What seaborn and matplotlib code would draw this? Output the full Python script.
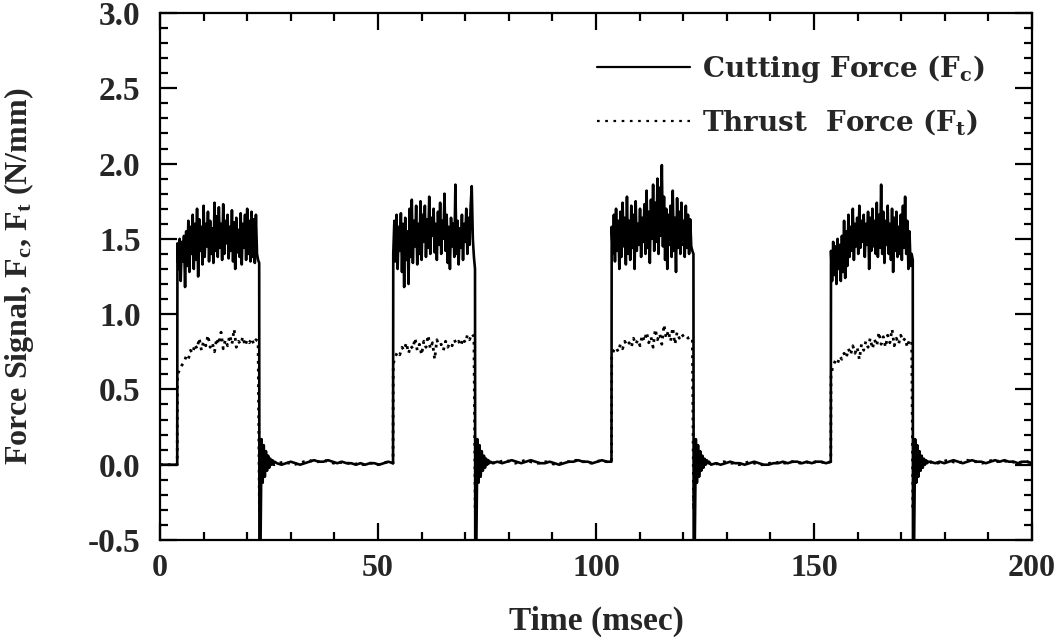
import numpy as np
import pandas as pd
import matplotlib
matplotlib.use("Agg")
import matplotlib.pyplot as plt
import seaborn as sns
from matplotlib.ticker import MultipleLocator, FormatStrFormatter
from matplotlib.lines import Line2D

# ---------------- data ----------------
onsets = [4.0, 53.5, 103.6, 153.9]      # ms, start of each cutting pulse
pulse_len = 18.8                          # ms
fc_step = 0.25                            # ms between cutting-force samples
ft_step = 0.5                             # ms between thrust-force samples
ring_step = 0.25
t_end = 200.0

fc_p1 = [1.47, 1.30, 1.50, 1.22, 1.48, 1.35, 1.52, 1.18,
         1.55, 1.32, 1.62, 1.28, 1.58, 1.40, 1.66, 1.30,
         1.60, 1.36, 1.70, 1.25, 1.63, 1.42, 1.58, 1.33,
         1.72, 1.38, 1.60, 1.45, 1.68, 1.35, 1.62, 1.40,
         1.57, 1.34, 1.74, 1.42, 1.65, 1.38, 1.71, 1.44,
         1.60, 1.36, 1.73, 1.40, 1.62, 1.47, 1.66, 1.37,
         1.58, 1.42, 1.69, 1.35, 1.61, 1.30, 1.64, 1.41,
         1.56, 1.38, 1.67, 1.33, 1.60, 1.44, 1.66, 1.36,
         1.70, 1.40, 1.62, 1.35, 1.68, 1.38, 1.63, 1.34,
         1.66, 1.40, 1.36, 1.34]
fc_p2 = [1.40, 1.62, 1.35, 1.66, 1.30, 1.58, 1.42, 1.67,
         1.28, 1.60, 1.18, 1.64, 1.36, 1.55, 1.20, 1.70,
         1.38, 1.76, 1.34, 1.62, 1.45, 1.72, 1.33, 1.60,
         1.40, 1.75, 1.36, 1.66, 1.48, 1.72, 1.38, 1.63,
         1.44, 1.78, 1.40, 1.64, 1.52, 1.70, 1.41, 1.60,
         1.36, 1.68, 1.46, 1.74, 1.40, 1.62, 1.50, 1.80,
         1.42, 1.66, 1.34, 1.58, 1.30, 1.64, 1.45, 1.60,
         1.38, 1.86, 1.40, 1.62, 1.33, 1.57, 1.44, 1.66,
         1.36, 1.60, 1.48, 1.70, 1.40, 1.64, 1.46, 1.72,
         1.85, 1.50, 1.38, 1.30]
fc_p3 = [1.58, 1.40, 1.66, 1.35, 1.70, 1.42, 1.62, 1.30,
         1.68, 1.38, 1.74, 1.45, 1.64, 1.33, 1.78, 1.40,
         1.62, 1.36, 1.72, 1.44, 1.66, 1.30, 1.75, 1.42,
         1.60, 1.46, 1.70, 1.38, 1.64, 1.48, 1.73, 1.40,
         1.82, 1.44, 1.68, 1.34, 1.76, 1.50, 1.86, 1.42,
         1.74, 1.48, 1.90, 1.40, 1.84, 1.52, 1.99, 1.45,
         1.78, 1.36, 1.70, 1.30, 1.66, 1.46, 1.72, 1.38,
         1.82, 1.42, 1.64, 1.28, 1.77, 1.44, 1.68, 1.40,
         1.74, 1.46, 1.62, 1.38, 1.72, 1.44, 1.66, 1.40,
         1.63, 1.45, 1.42, 1.40]
fc_p4 = [1.42, 1.22, 1.48, 1.26, 1.45, 1.20, 1.50, 1.30,
         1.46, 1.22, 1.52, 1.28, 1.62, 1.24, 1.55, 1.32,
         1.66, 1.38, 1.58, 1.42, 1.70, 1.36, 1.60, 1.45,
         1.64, 1.40, 1.72, 1.44, 1.62, 1.48, 1.66, 1.38,
         1.60, 1.46, 1.68, 1.30, 1.64, 1.42, 1.70, 1.45,
         1.62, 1.40, 1.74, 1.38, 1.66, 1.44, 1.86, 1.40,
         1.68, 1.34, 1.62, 1.46, 1.72, 1.40, 1.60, 1.36,
         1.70, 1.28, 1.64, 1.42, 1.68, 1.38, 1.58, 1.40,
         1.66, 1.36, 1.72, 1.44, 1.78, 1.40, 1.62, 1.30,
         1.55, 1.32, 1.40, 1.36]

ft_p1 = [0.60, 0.63, 0.66, 0.68, 0.72, 0.70, 0.76, 0.74, 0.80, 0.77,
         0.84, 0.76, 0.82, 0.79, 0.86, 0.78, 0.81, 0.75, 0.84, 0.80,
         0.88, 0.77, 0.83, 0.79, 0.86, 0.80, 0.90, 0.78, 0.82, 0.80,
         0.85, 0.79, 0.83, 0.81, 0.84, 0.80, 0.83, 0.82]
ft_p2 = [0.67, 0.72, 0.75, 0.73, 0.78, 0.76, 0.81, 0.74, 0.79, 0.77,
         0.84, 0.76, 0.80, 0.73, 0.82, 0.78, 0.86, 0.77, 0.81, 0.70,
         0.83, 0.79, 0.80, 0.76, 0.82, 0.78, 0.81, 0.79, 0.83, 0.80,
         0.82, 0.79, 0.84, 0.81, 0.86, 0.83, 0.87, 0.85]
ft_p3 = [0.73, 0.76, 0.78, 0.75, 0.80, 0.77, 0.82, 0.79, 0.81, 0.78,
         0.84, 0.80, 0.83, 0.79, 0.86, 0.82, 0.88, 0.81, 0.85, 0.78,
         0.90, 0.83, 0.87, 0.80, 0.93, 0.84, 0.89, 0.82, 0.91, 0.80,
         0.88, 0.84, 0.87, 0.85, 0.86, 0.84, 0.85, 0.83]
ft_p4 = [0.60, 0.66, 0.69, 0.67, 0.72, 0.70, 0.74, 0.71, 0.77, 0.73,
         0.79, 0.74, 0.78, 0.70, 0.80, 0.76, 0.82, 0.78, 0.84, 0.77,
         0.83, 0.79, 0.88, 0.80, 0.85, 0.78, 0.86, 0.81, 0.90, 0.79,
         0.84, 0.80, 0.86, 0.82, 0.84, 0.78, 0.83, 0.82]

fc_ring = [-0.62, -0.55, 0.17, -0.12, 0.13, -0.08, 0.09, -0.04, 0.06,
           -0.02, 0.04, 0.00, 0.03, 0.01, 0.02]
ft_ring = [-0.30, 0.10, -0.06, 0.05, -0.02, 0.03, 0.00, 0.01]

base_pre = [0.0, 0.0]
base_1 = [0.01, 0.00, 0.01, 0.02, 0.01, 0.00, 0.01, 0.02, 0.03, 0.02,
          0.02, 0.03, 0.02, 0.01, 0.02, 0.01, 0.01, 0.00, 0.01, 0.00,
          0.01, 0.01, 0.00, 0.01, 0.02, 0.01]
base_2 = [0.01, 0.02, 0.01, 0.02, 0.03, 0.02, 0.01, 0.02, 0.03, 0.02,
          0.01, 0.01, 0.02, 0.01, 0.00, 0.01, 0.02, 0.02, 0.03, 0.02,
          0.02, 0.01, 0.02, 0.03, 0.02, 0.02]
base_3 = [0.00, 0.01, 0.00, 0.01, 0.02, 0.01, 0.01, 0.00, 0.01, 0.02,
          0.01, 0.00, 0.00, 0.01, 0.01, 0.02, 0.01, 0.02, 0.02, 0.01,
          0.02, 0.01, 0.02, 0.02, 0.01, 0.02]
base_4 = [0.02, 0.01, 0.02, 0.01, 0.02, 0.03, 0.02, 0.01, 0.02, 0.03,
          0.02, 0.02, 0.01, 0.02, 0.03, 0.02, 0.03, 0.02, 0.02, 0.01,
          0.02, 0.02, 0.01]

x_ticks = [0, 50, 100, 150, 200]
y_ticks = [-0.5, 0.0, 0.5, 1.0, 1.5, 2.0, 2.5, 3.0]


def build(pulses, step, ring):
    t = [0.0, onsets[0] - 0.05]
    v = list(base_pre)
    bases = [base_1, base_2, base_3, base_4]
    nexts = onsets[1:] + [t_end]
    for on, nxt, p, b in zip(onsets, nexts, pulses, bases):
        t += [on + step * i for i in range(len(p))]
        v += p
        r0 = on + pulse_len
        t += [r0 + ring_step * j for j in range(len(ring))]
        v += ring
        rend = r0 + ring_step * (len(ring) - 1)
        stop = nxt - 0.05 if nxt < t_end else t_end
        t += list(np.linspace(rend + 0.5, stop, len(b)))
        v += b
    return pd.DataFrame({"t": t, "v": v})


fc_df = build([fc_p1, fc_p2, fc_p3, fc_p4], fc_step, fc_ring)
ft_df = build([ft_p1, ft_p2, ft_p3, ft_p4], ft_step, ft_ring)

# ---------------- styling ----------------
sns.set_style("ticks")
plt.rcParams["font.family"] = ["Liberation Serif", "DejaVu Serif"]
plt.rcParams["font.weight"] = "bold"
plt.rcParams["axes.unicode_minus"] = False

fig = plt.figure(figsize=(10.6, 6.41), dpi=100)
ax = fig.add_axes([160 / 1060, 1 - 540 / 641, 872 / 1060, 527 / 641])

dot_style = (0, (1.0, 1.8))
sns.lineplot(data=fc_df, x="t", y="v", ax=ax, color="black", lw=1.9,
             estimator=None, sort=False, legend=False)
sns.lineplot(data=ft_df, x="t", y="v", ax=ax, color="black", lw=2.0,
             estimator=None, sort=False, legend=False)
ax.lines[-1].set_linestyle(dot_style)

ax.set_xlim(0, 200)
ax.set_ylim(-0.5, 3.0)
ax.set_xticks(x_ticks)
ax.set_yticks(y_ticks)
ax.xaxis.set_minor_locator(MultipleLocator(10))
ax.yaxis.set_minor_locator(MultipleLocator(0.1))
ax.yaxis.set_major_formatter(FormatStrFormatter("%.1f"))

for s in ax.spines.values():
    s.set_visible(True)
    s.set_linewidth(1.6)
    s.set_color("black")

ax.tick_params(which="both", direction="in", top=True, right=True,
               color="black", width=1.6)
ax.tick_params(which="major", length=12)
ax.tick_params(which="minor", length=5.5)
ax.tick_params(axis="y", which="major", pad=14, labelsize=24)
ax.tick_params(axis="x", which="major", pad=10, labelsize=23)
for lab in ax.get_xticklabels() + ax.get_yticklabels():
    lab.set_fontweight("bold")

ax.set_xlabel("Time (msec)", fontsize=24, fontweight="bold")
ax.xaxis.set_label_coords(0.5, -0.125)
ax.set_ylabel(r"Force Signal, $\mathregular{F_c}$, $\mathregular{F_t}$ (N/mm)",
              fontsize=23, fontweight="bold")
ax.yaxis.set_label_coords(-0.142, 0.5)

handles = [Line2D([], [], color="black", lw=1.6),
           Line2D([], [], color="black", lw=1.6, linestyle=(0, (1.2, 2.5)))]
labels = [r"Cutting Force ($\mathregular{F_c}$)",
          r"Thrust  Force ($\mathregular{F_t}$)"]
ax.legend(handles, labels, loc="upper right", bbox_to_anchor=(0.946, 0.925),
          frameon=False, borderpad=0, borderaxespad=0, handlelength=3.35,
          handletextpad=0.43, labelspacing=0.8,
          prop={"family": "DejaVu Serif", "weight": "bold", "size": 20})

fig.savefig("out.png", dpi=100)
